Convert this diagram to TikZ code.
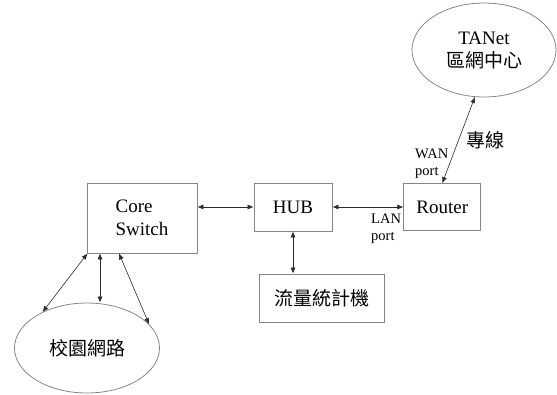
\documentclass[tikz,border=0pt]{standalone}
\usepackage{fontspec}
\setmainfont{Liberation Serif}
\newfontfamily\cjk{Noto Sans CJK TC}
\usetikzlibrary{
  arrows.meta,
  shapes.geometric,
  positioning
}
\definecolor{netEdge}{HTML}{858585}
\definecolor{netLink}{HTML}{2B2B2B}
\tikzset{
  netbox/.style={
    draw=netEdge, line width=0.8pt, rectangle, inner sep=0pt,
    font=\fontsize{19}{23}\selectfont, align=center
  },
  site/.style={netbox, ellipse},
  link/.style={{Latex[length=6pt,width=5pt]}-{Latex[length=6pt,width=5pt]}, line width=0.6pt, netLink},
  tag/.style={font=\fontsize{14.5}{17}\selectfont, align=left, inner sep=0pt}
}

\begin{document}
\begin{tikzpicture}[x=1pt, y=-1pt]
  \useasboundingbox (0,0) rectangle (557,394);
  \node[netbox, minimum width=110pt, minimum height=70pt, align=left] (core) at (142,218) {Core\\Switch};
  \node[netbox, minimum width=78pt, minimum height=48pt] (hub) at (293,207) {HUB};
  \node[netbox, minimum width=77pt, minimum height=47pt, right=71pt of hub] (router) {Router};
  \node[netbox, minimum width=125pt, minimum height=48pt] (stat) at (321.5,298) {\cjk 流量統計機};
  \node[site, minimum width=144pt, minimum height=94pt] (tanet) at (484,50) {TANet\\{\cjk 區網中心}};
  \node[site, minimum width=145pt, minimum height=90pt] (campus) at (87,348) {\cjk 校園網路};
  \node[tag, anchor=west] (wan) at (415,164) {WAN\\port};
  \node[tag, anchor=west] (lan) at (371,229) {LAN\\port};
  \node[tag, font=\cjk\fontsize{19}{23}\selectfont] (lease) at (485,140) {專線};
  \draw[link] (core.east |- hub.west) -- (hub.west);
  \draw[link] (hub.east) -- (router.west);
  \draw[link] (hub.south) -- (hub.south |- stat.north);
  \draw[link] (router.north) -- (tanet.-101);
  \draw[link] (core.-147) -- (campus.141);
  \draw[link] ([xshift=-42pt]core.south) -- ([xshift=-42pt]core.south |- campus.north);
  \draw[link] (core.-123) -- (campus.21);
\end{tikzpicture}
\end{document}
